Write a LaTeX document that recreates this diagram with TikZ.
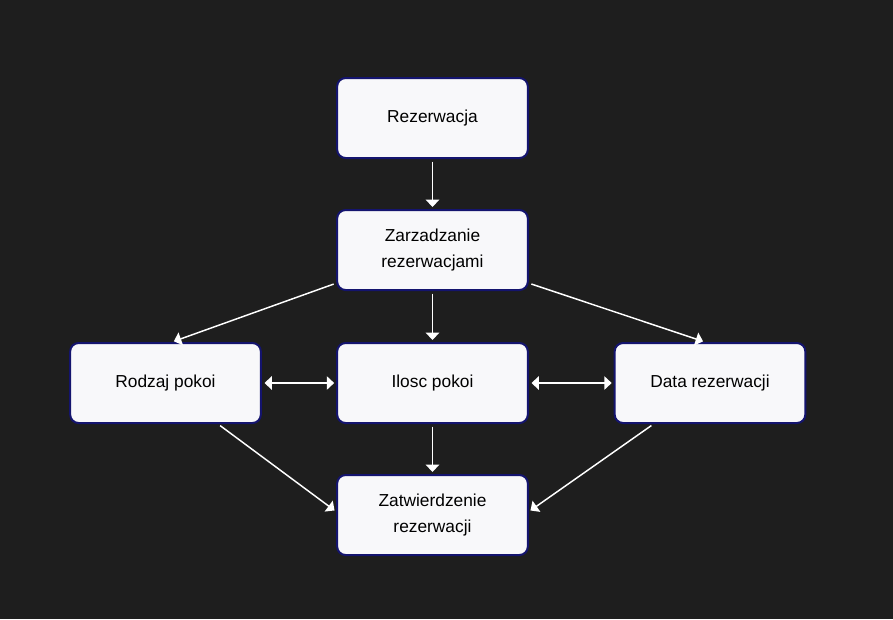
\documentclass[tikz,border=0pt]{standalone}
\usepackage{fontspec}
\setmainfont{Liberation Sans}
\usetikzlibrary{positioning}
\usetikzlibrary{arrows.meta}
\definecolor{bg}{HTML}{1E1E1E}
\definecolor{boxfill}{HTML}{F8F8FA}
\definecolor{boxline}{HTML}{14146E}
\tikzset{every picture/.style={x=0.75pt,y=-0.75pt},
  box/.style={minimum width=143pt,minimum height=60pt,rounded corners=1.2ex,draw=boxline,fill=boxfill,line width=1.5pt,align=center,font=\fontsize{13pt}{19.5pt}\selectfont},
  link/.style={draw=white,line width=1.1pt,-{Triangle[length=5.5pt,width=10pt]},shorten <=2pt,shorten >=1.5pt},
  both/.style={link,{Triangle[length=5.5pt,width=10pt]}-{Triangle[length=5.5pt,width=10pt]}}}

\begin{document}
\begin{tikzpicture}
\fill[bg] (0,0) rectangle (893,619);
\useasboundingbox (0,0) rectangle (893,619);

\node (rez) at (432.5,118) [box] {Rezerwacja};
\node (zarz) at (432.5,250) [box] {Zarzadzanie\\rezerwacjami};
\node (ilosc) at (432.5,383) [box] {Ilosc pokoi};
\node (rodz) at (165.5,383) [box] {Rodzaj pokoi};
\node (data) at (710,383) [box] {Data rezerwacji};
\node (zatw) at (432.5,515) [box] {Zatwierdzenie\\rezerwacji};
\draw[link] (rez) -- (zarz);
\draw[link] (zarz) -- (ilosc);
\draw[link] (ilosc) -- (zatw);
\draw[link] (zarz.199) -- (rodz.81);
\draw[link] (zarz.-19) -- (data.97);
\draw[both] (rodz) -- (ilosc);
\draw[both] (ilosc) -- (data);
\draw[link] (rodz.-38) -- (zatw.178);
\draw[link] (data.216) -- (zatw.2);
\end{tikzpicture}
\end{document}
